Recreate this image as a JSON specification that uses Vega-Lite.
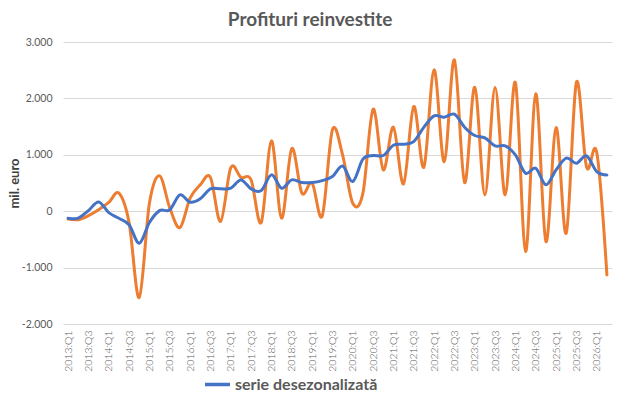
{
  "$schema": "https://vega.github.io/schema/vega-lite/v6.json",
  "width": 549,
  "height": 282,
  "autosize": {"type": "none"},
  "padding": {"left": 63, "top": 42, "right": 12, "bottom": 84},
  "background": "white",
  "title": {"text": "Profituri reinvestite", "font": "Lato", "fontSize": 19, "fontWeight": "bold", "color": "#595959", "anchor": "middle", "frame": "bounds", "offset": 7},
  "config": {
    "locale": {"number": {"decimal": ",", "thousands": ".", "grouping": [3], "currency": ["", ""], "minus": "-"}},
    "view": {"stroke": null},
    "font": "Lato"
  },
  "data": {"values": [
    {"q": "2013:Q1", "brut": -140, "sa": -124},
    {"q": "2013:Q2", "brut": -150, "sa": -124},
    {"q": "2013:Q3", "brut": -80, "sa": 10},
    {"q": "2013:Q4", "brut": 25, "sa": 165},
    {"q": "2014:Q1", "brut": 155, "sa": -25},
    {"q": "2014:Q2", "brut": 320, "sa": -125},
    {"q": "2014:Q3", "brut": -200, "sa": -240},
    {"q": "2014:Q4", "brut": -1530, "sa": -567},
    {"q": "2015:Q1", "brut": 140, "sa": -200},
    {"q": "2015:Q2", "brut": 626, "sa": 10},
    {"q": "2015:Q3", "brut": 60, "sa": 25},
    {"q": "2015:Q4", "brut": -290, "sa": 290},
    {"q": "2016:Q1", "brut": 230, "sa": 160},
    {"q": "2016:Q2", "brut": 467, "sa": 220},
    {"q": "2016:Q3", "brut": 600, "sa": 396},
    {"q": "2016:Q4", "brut": -183, "sa": 396},
    {"q": "2017:Q1", "brut": 770, "sa": 408},
    {"q": "2017:Q2", "brut": 600, "sa": 555},
    {"q": "2017:Q3", "brut": 555, "sa": 396},
    {"q": "2017:Q4", "brut": -200, "sa": 366},
    {"q": "2018:Q1", "brut": 1247, "sa": 644},
    {"q": "2018:Q2", "brut": -124, "sa": 408},
    {"q": "2018:Q3", "brut": 1110, "sa": 555},
    {"q": "2018:Q4", "brut": 320, "sa": 508},
    {"q": "2019:Q1", "brut": 500, "sa": 508},
    {"q": "2019:Q2", "brut": -83, "sa": 543},
    {"q": "2019:Q3", "brut": 1442, "sa": 615},
    {"q": "2019:Q4", "brut": 1000, "sa": 800},
    {"q": "2020:Q1", "brut": 142, "sa": 526},
    {"q": "2020:Q2", "brut": 320, "sa": 922},
    {"q": "2020:Q3", "brut": 1808, "sa": 987},
    {"q": "2020:Q4", "brut": 733, "sa": 987},
    {"q": "2021:Q1", "brut": 1490, "sa": 1170},
    {"q": "2021:Q2", "brut": 485, "sa": 1188},
    {"q": "2021:Q3", "brut": 1856, "sa": 1235},
    {"q": "2021:Q4", "brut": 780, "sa": 1490},
    {"q": "2022:Q1", "brut": 2506, "sa": 1690},
    {"q": "2022:Q2", "brut": 880, "sa": 1667},
    {"q": "2022:Q3", "brut": 2683, "sa": 1720},
    {"q": "2022:Q4", "brut": 508, "sa": 1490},
    {"q": "2023:Q1", "brut": 2198, "sa": 1342},
    {"q": "2023:Q2", "brut": 290, "sa": 1300},
    {"q": "2023:Q3", "brut": 2193, "sa": 1158},
    {"q": "2023:Q4", "brut": 290, "sa": 1158},
    {"q": "2024:Q1", "brut": 2281, "sa": 999},
    {"q": "2024:Q2", "brut": -715, "sa": 674},
    {"q": "2024:Q3", "brut": 2080, "sa": 762},
    {"q": "2024:Q4", "brut": -538, "sa": 467},
    {"q": "2025:Q1", "brut": 1483, "sa": 733},
    {"q": "2025:Q2", "brut": -390, "sa": 940},
    {"q": "2025:Q3", "brut": 2287, "sa": 851},
    {"q": "2025:Q4", "brut": 780, "sa": 981},
    {"q": "2026:Q1", "brut": 1040, "sa": 703},
    {"q": "2026:Q2", "brut": -1129, "sa": 644}
  ]},
  "encoding": {
    "x": {
      "field": "q", "type": "ordinal", "sort": null, "title": null,
      "axis": {
        "values": ["2013:Q1","2013:Q3","2014:Q1","2014:Q3","2015:Q1","2015:Q3","2016:Q1","2016:Q3","2017:Q1","2017:Q3","2018:Q1","2018:Q3","2019:Q1","2019:Q3","2020:Q1","2020:Q3","2021:Q1","2021:Q3","2022:Q1","2022:Q3","2023:Q1","2023:Q3","2024:Q1","2024:Q3","2025:Q1","2025:Q3","2026:Q1"],
        "labelAngle": -90, "labelFontSize": 10.5, "labelFontWeight": 300, "labelColor": "#595959", "labelPadding": 6,
        "ticks": false, "tickSize": 0, "domain": false, "grid": false
      }
    }
  },
  "layer": [
    {
      "mark": {"type": "line", "interpolate": "cardinal", "strokeWidth": 3, "color": "#ED7D31", "strokeCap": "round", "strokeJoin": "round"},
      "encoding": {
        "y": {
          "field": "brut", "type": "quantitative",
          "scale": {"domain": [-2000, 3000], "nice": false, "zero": false},
          "title": "mil. euro",
          "axis": {
            "values": [-2000, -1500, -1000, -500, 0, 500, 1000, 1500, 2000, 2500, 3000],
            "format": ",.0f", "labelFontSize": 10.5, "labelColor": "#595959", "labelPadding": 11,
            "ticks": false, "tickSize": 0, "domain": false,
            "grid": true, "gridColor": "#D9D9D9", "gridWidth": 1,
            "titleFontSize": 13, "titleFontWeight": "bold", "titleColor": "#404040", "titlePadding": 0
          }
        }
      }
    },
    {
      "mark": {"type": "line", "interpolate": "cardinal", "strokeWidth": 3, "strokeCap": "round", "strokeJoin": "round"},
      "encoding": {
        "y": {"field": "sa", "type": "quantitative"},
        "color": {
          "datum": "serie desezonalizată",
          "scale": {"range": ["#4472C4"]},
          "legend": {
            "title": null, "orient": "none", "legendX": 140, "legendY": 328,
            "symbolType": "stroke", "symbolSize": 625, "symbolStrokeWidth": 3.5,
            "labelFontSize": 16, "labelFontWeight": "bold", "labelColor": "#595959", "labelOffset": 3
          }
        }
      }
    }
  ]
}
